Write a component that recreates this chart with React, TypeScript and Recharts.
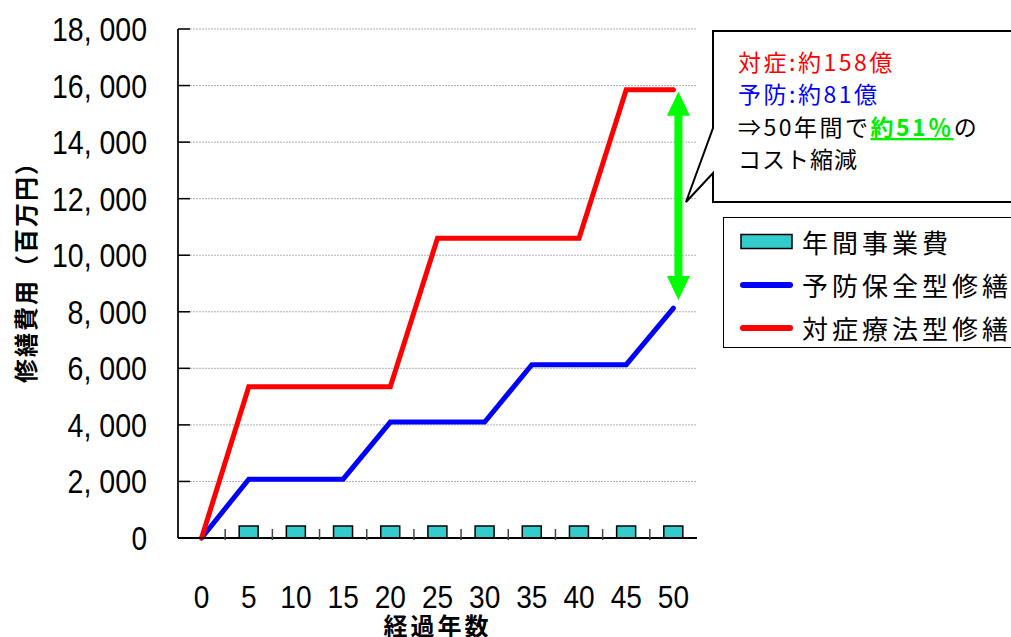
import React from 'react';
import { ComposedChart, Bar, Line, XAxis, YAxis, CartesianGrid, ReferenceLine, Legend } from 'recharts';

// 経過年数
const years = ['0', '5', '10', '15', '20', '25', '30', '35', '40', '45', '50'];
// 年間事業費 (百万円)
const annualCost = [null, 425, 425, 425, 425, 425, 425, 425, 425, 425, 425];
// 予防保全型修繕 累計 (百万円)
const preventive = [0, 2080, 2080, 2080, 4100, 4100, 4100, 6130, 6130, 6130, 8130];
// 対症療法型修繕 累計 (百万円)
const symptomatic = [0, 5350, 5350, 5350, 5350, 10600, 10600, 10600, 10600, 15850, 15850];
const yTicks = [0, 2000, 4000, 6000, 8000, 10000, 12000, 14000, 16000, 18000];

const data = years.map((year, i) => ({
  year,
  cost: annualCost[i],
  preventive: preventive[i],
  symptomatic: symptomatic[i],
}));

const JP = "'Noto Sans CJK JP', 'Noto Sans', sans-serif";
const NUM = "'Liberation Sans', Arimo, sans-serif";

const fmt = (v: number) => v.toLocaleString('en-US').replace(',', ', ');

// narrow, tall digits like the original gothic font
const numWidth = (s: string) => {
  const digits = s.replace(/[^0-9]/g, '').length;
  return digits * 15.6 + (s.includes(',') ? 17 : 0);
};

const YTick = (props: any) => {
  const { x, y, payload } = props;
  const label = fmt(payload.value);
  return (
    <g>
      <line x1={x + 31} x2={x + 43} y1={y} y2={y} stroke="#000" strokeWidth={1.5} />
      <text x={x} y={y} dy={12} textAnchor="end" fontSize={33} fontFamily={NUM} fill="#000"
        textLength={numWidth(label)} lengthAdjust="spacingAndGlyphs">
        {label}
      </text>
    </g>
  );
};

const XTick = (props: any) => {
  const { x, y, payload, index } = props;
  const half = 519 / years.length / 2;
  return (
    <g>
      {index < years.length - 1 && (
        <line x1={x + half} x2={x + half} y1={y} y2={y - 11} stroke="#444" strokeWidth={1.5} />
      )}
      <text x={x} y={y} dy={68} textAnchor="middle" fontSize={32} fontFamily={NUM} fill="#000"
        textLength={numWidth(payload.value)} lengthAdjust="spacingAndGlyphs">
        {payload.value}
      </text>
    </g>
  );
};

const XTitle = (props: any) => {
  const { viewBox } = props;
  return (
    <text x={viewBox.x + viewBox.width / 2} y={635} textAnchor="middle" fontSize={24}
      fontWeight="bold" fontFamily={JP} letterSpacing={3} fill="#000">
      経過年数
    </text>
  );
};

const YTitle = () => (
  <text x={26} y={266} transform="rotate(-90 26 266)" dy={9} textAnchor="middle" fontSize={24}
    fontWeight="bold" fontFamily={JP} letterSpacing={2} fill="#000">
    修繕費用（百万円）
  </text>
);

const DiffArrow = (props: any) => {
  const { x1, y1, y2 } = props;
  const x = x1 + 5;
  const top = Math.min(y1, y2) + 2;
  const bottom = Math.max(y1, y2) - 8;
  const hw = 11.5, hh = 24, sw = 4;
  const d = `M${x},${top} L${x + hw},${top + hh} L${x + sw},${top + hh} L${x + sw},${bottom - hh} ` +
    `L${x + hw},${bottom - hh} L${x},${bottom} L${x - hw},${bottom - hh} L${x - sw},${bottom - hh} ` +
    `L${x - sw},${top + hh} L${x - hw},${top + hh} Z`;
  return <path d={d} fill="#00ff00" />;
};

const legendItems = [
  { label: '年間事業費', type: 'rect', color: '#33cccc' },
  { label: '予防保全型修繕', type: 'line', color: '#0000ff' },
  { label: '対症療法型修繕', type: 'line', color: '#ff0000' },
];

const LegendBox = () => (
  <div style={{ width: 320, height: 131, border: '1px solid #000', background: '#fff', boxSizing: 'border-box', position: 'relative' }}>
    {legendItems.map((item, i) => (
      <div key={item.label} style={{ position: 'absolute', left: 16, top: 7 + i * 43, height: 34, display: 'flex', alignItems: 'center' }}>
        <svg width={54} height={20} style={{ display: 'block' }}>
          {item.type === 'rect' ? (
            <rect x={1} y={2.5} width={51} height={14} fill={item.color} stroke="#000" strokeWidth={1.5} />
          ) : (
            <line x1={3} x2={50} y1={10} y2={10} stroke={item.color} strokeWidth={6} strokeLinecap="round" />
          )}
        </svg>
        <span style={{ marginLeft: 8, fontSize: 26, letterSpacing: 4, fontFamily: JP, color: '#000', whiteSpace: 'nowrap', lineHeight: '34px' }}>
          {item.label}
        </span>
      </div>
    ))}
  </div>
);

const Callout = () => (
  <svg width={1011} height={637} style={{ position: 'absolute', left: 0, top: 0, pointerEvents: 'none' }}>
    <path d="M713,31 H1016 V202 H713 V173 L686,202 L713,128 Z" fill="#fff" stroke="#000" strokeWidth={2} />
    <g fontFamily={JP} fontSize={23}>
      <text x={738} y={71} fill="#ff0000" letterSpacing={2.5}>対症:約158億</text>
      <text x={738} y={103} fill="#0000ff" letterSpacing={2.5}>予防:約81億</text>
      <text x={738} y={136} fill="#000" letterSpacing={2.5}>
        ⇒50年間で
        <tspan fill="#00ee00" fontWeight="bold" textDecoration="underline">約51％</tspan>
        の
      </text>
      <text x={738} y={168} fill="#000" letterSpacing={1}>コスト縮減</text>
    </g>
  </svg>
);

export default function App() {
  return (
    <div style={{ position: 'fixed', left: 0, top: 0, width: 1011, height: 637, overflow: 'hidden', background: '#fff' }}>
      <ComposedChart width={1011} height={637} data={data} margin={{ top: 29, right: 314, bottom: 0, left: 0 }}>
        <CartesianGrid vertical={false} stroke="#b0b0b0" strokeDasharray="2 1" />
        <XAxis dataKey="year" height={99} interval={0} tickLine={false} tickSize={0}
          axisLine={{ stroke: '#000', strokeWidth: 2 }} tick={<XTick />} label={<XTitle />} />
        <XAxis xAxisId="top" dataKey="year" orientation="top" height={0} tick={false} tickLine={false}
          axisLine={{ stroke: '#888', strokeWidth: 2 }} />
        <YAxis domain={[0, 18000]} ticks={yTicks} interval={0} width={178} tickLine={false} tickSize={0}
          tickMargin={31} axisLine={{ stroke: '#222', strokeWidth: 2 }} tick={<YTick />} label={<YTitle />} />
        <YAxis yAxisId="right" orientation="right" domain={[0, 18000]} width={0} tick={false} tickLine={false}
          axisLine={{ stroke: '#888', strokeWidth: 2 }} />
        <Bar dataKey="cost" fill="#33cccc" stroke="#000" strokeWidth={1.5} barSize={19} isAnimationActive={false} />
        <Line type="linear" dataKey="preventive" stroke="#0000ff" strokeWidth={5} dot={false} activeDot={false}
          strokeLinecap="round" isAnimationActive={false} />
        <Line type="linear" dataKey="symptomatic" stroke="#ff0000" strokeWidth={5} dot={false} activeDot={false}
          strokeLinecap="round" isAnimationActive={false} />
        <ReferenceLine segment={[{ x: '50', y: 15850 }, { x: '50', y: 8130 }]} shape={<DiffArrow />} />
        <Legend layout="horizontal" verticalAlign="middle" align="center"
          wrapperStyle={{ position: 'absolute', left: 723, top: 217, width: 320, height: 131 }}
          content={() => <LegendBox />} />
      </ComposedChart>
      <Callout />
    </div>
  );
}
